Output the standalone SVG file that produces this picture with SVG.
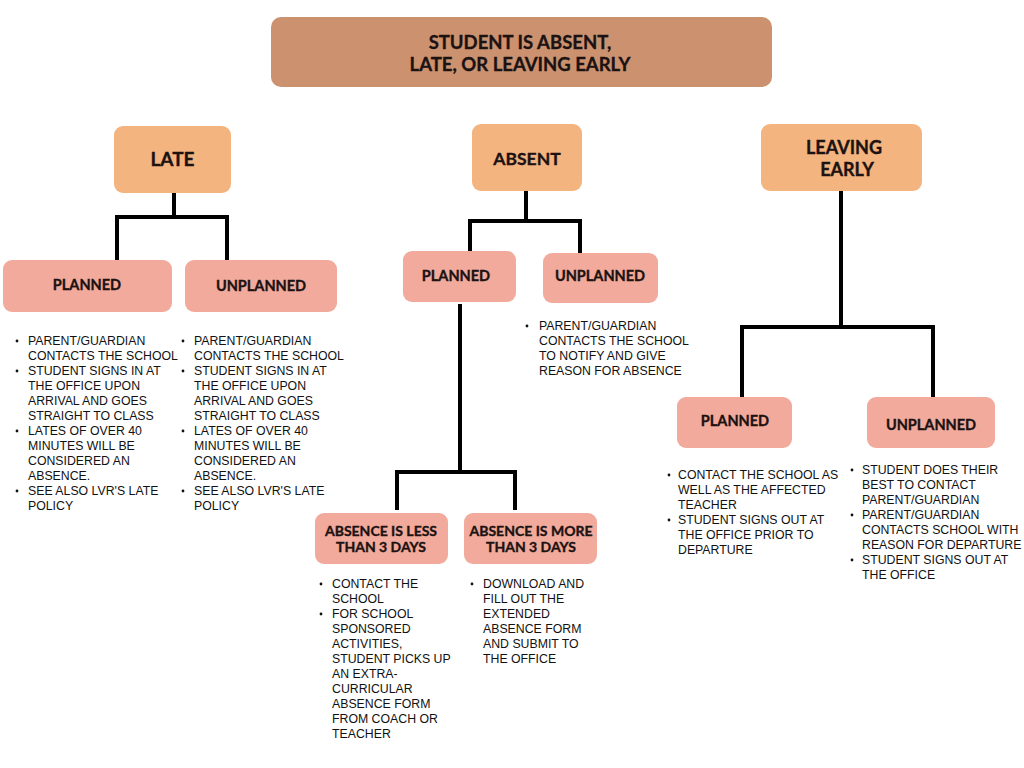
<svg xmlns="http://www.w3.org/2000/svg" width="1024" height="768" viewBox="0 0 1024 768">
<style>
.title{fill:#CC9270}
.l1{fill:#F4B47F}
.l2{fill:#F1AA9B}
.h{font-family:Lato,"Open Sans","Liberation Sans",sans-serif;font-weight:bold;fill:#1c1212;stroke:#1c1212;stroke-width:0.35;text-anchor:middle}
.b{font-family:"Liberation Sans",Arial,sans-serif;font-size:12.3px;fill:#111}
.dot{fill:#111}
.conn{fill:none;stroke:#000;stroke-width:4}
</style>
<rect width="1024" height="768" fill="#fff"/>
<g id="connectors">
<path class="conn" d="M174,193 V217 M117,217 H227 M117,215 V263 M227,215 V263"/>
<path class="conn" d="M526,191 V221 M470,221 H580 M470,219 V253 M580,219 V253"/>
<path class="conn" d="M460,304 V472 M397,472 H515 M397,470 V510 M515,470 V510"/>
<path class="conn" d="M841,191 V327 M742,327 H933 M742,325 V400 M933,325 V400"/>
</g>
<g id="root">
<rect class="title" x="271" y="17" width="501" height="70" rx="10"/>
<text class="h" font-size="18.5" x="520" y="49">STUDENT IS ABSENT,</text>
<text class="h" font-size="18.5" x="520" y="71">LATE, OR LEAVING EARLY</text>
</g>
<g id="late">
<rect class="l1" x="114" y="126" width="117" height="67" rx="9"/>
<text class="h" font-size="19" x="172.5" y="166">LATE</text>
</g>
<g id="absent">
<rect class="l1" x="472" y="124" width="110" height="67" rx="9"/>
<text class="h" font-size="17.5" x="527" y="165">ABSENT</text>
</g>
<g id="leaving-early">
<rect class="l1" x="761" y="124" width="161" height="67" rx="9"/>
<text class="h" font-size="18" x="844" y="154">LEAVING</text>
<text class="h" font-size="18" x="847" y="176">EARLY</text>
</g>
<g id="late-planned">
<rect class="l2" x="3" y="260" width="169" height="52" rx="9"/>
<text class="h" font-size="14.5" x="87" y="290">PLANNED</text>
</g>
<g id="late-unplanned">
<rect class="l2" x="185" y="260" width="152" height="52" rx="9"/>
<text class="h" font-size="14.5" x="261" y="291">UNPLANNED</text>
</g>
<g id="absent-planned">
<rect class="l2" x="403" y="251" width="113" height="51" rx="9"/>
<text class="h" font-size="14.5" x="456" y="281">PLANNED</text>
</g>
<g id="absent-unplanned">
<rect class="l2" x="543" y="253" width="115" height="50" rx="9"/>
<text class="h" font-size="14.5" x="600" y="281">UNPLANNED</text>
</g>
<g id="absence-less">
<rect class="l2" x="315" y="513" width="133" height="51" rx="9"/>
<text class="h" font-size="14" x="381" y="536">ABSENCE IS LESS</text>
<text class="h" font-size="14" x="381" y="552">THAN 3 DAYS</text>
</g>
<g id="absence-more">
<rect class="l2" x="464" y="513" width="133" height="51" rx="9"/>
<text class="h" font-size="14" x="531" y="536">ABSENCE IS MORE</text>
<text class="h" font-size="14" x="531" y="552">THAN 3 DAYS</text>
</g>
<g id="leaving-planned">
<rect class="l2" x="677" y="397" width="115" height="51" rx="9"/>
<text class="h" font-size="14.5" x="735" y="426">PLANNED</text>
</g>
<g id="leaving-unplanned">
<rect class="l2" x="867" y="397" width="128" height="51" rx="9"/>
<text class="h" font-size="14.5" x="931" y="430">UNPLANNED</text>
</g>
<g id="late-planned-notes">
<circle class="dot" cx="17" cy="341" r="1.4"/><circle class="dot" cx="17" cy="371" r="1.4"/><circle class="dot" cx="17" cy="431" r="1.4"/><circle class="dot" cx="17" cy="491" r="1.4"/>
<text class="b" x="28" y="345">PARENT/GUARDIAN</text>
<text class="b" x="28" y="360">CONTACTS THE SCHOOL</text>
<text class="b" x="28" y="375">STUDENT SIGNS IN AT</text>
<text class="b" x="28" y="390">THE OFFICE UPON</text>
<text class="b" x="28" y="405">ARRIVAL AND GOES</text>
<text class="b" x="28" y="420">STRAIGHT TO CLASS</text>
<text class="b" x="28" y="435">LATES OF OVER 40</text>
<text class="b" x="28" y="450">MINUTES WILL BE</text>
<text class="b" x="28" y="465">CONSIDERED AN</text>
<text class="b" x="28" y="480">ABSENCE.</text>
<text class="b" x="28" y="495">SEE ALSO LVR'S LATE</text>
<text class="b" x="28" y="510">POLICY</text>
</g>
<g id="late-unplanned-notes">
<circle class="dot" cx="183" cy="341" r="1.4"/><circle class="dot" cx="183" cy="371" r="1.4"/><circle class="dot" cx="183" cy="431" r="1.4"/><circle class="dot" cx="183" cy="491" r="1.4"/>
<text class="b" x="194" y="345">PARENT/GUARDIAN</text>
<text class="b" x="194" y="360">CONTACTS THE SCHOOL</text>
<text class="b" x="194" y="375">STUDENT SIGNS IN AT</text>
<text class="b" x="194" y="390">THE OFFICE UPON</text>
<text class="b" x="194" y="405">ARRIVAL AND GOES</text>
<text class="b" x="194" y="420">STRAIGHT TO CLASS</text>
<text class="b" x="194" y="435">LATES OF OVER 40</text>
<text class="b" x="194" y="450">MINUTES WILL BE</text>
<text class="b" x="194" y="465">CONSIDERED AN</text>
<text class="b" x="194" y="480">ABSENCE.</text>
<text class="b" x="194" y="495">SEE ALSO LVR'S LATE</text>
<text class="b" x="194" y="510">POLICY</text>
</g>
<g id="absent-unplanned-notes">
<circle class="dot" cx="527" cy="326" r="1.4"/>
<text class="b" x="539" y="330">PARENT/GUARDIAN</text>
<text class="b" x="539" y="345">CONTACTS THE SCHOOL</text>
<text class="b" x="539" y="360">TO NOTIFY AND GIVE</text>
<text class="b" x="539" y="375">REASON FOR ABSENCE</text>
</g>
<g id="absence-less-notes">
<circle class="dot" cx="321" cy="584" r="1.4"/><circle class="dot" cx="321" cy="614" r="1.4"/>
<text class="b" x="332" y="588">CONTACT THE</text>
<text class="b" x="332" y="603">SCHOOL</text>
<text class="b" x="332" y="618">FOR SCHOOL</text>
<text class="b" x="332" y="633">SPONSORED</text>
<text class="b" x="332" y="648">ACTIVITIES,</text>
<text class="b" x="332" y="663">STUDENT PICKS UP</text>
<text class="b" x="332" y="678">AN EXTRA-</text>
<text class="b" x="332" y="693">CURRICULAR</text>
<text class="b" x="332" y="708">ABSENCE FORM</text>
<text class="b" x="332" y="723">FROM COACH OR</text>
<text class="b" x="332" y="738">TEACHER</text>
</g>
<g id="absence-more-notes">
<circle class="dot" cx="472" cy="584" r="1.4"/>
<text class="b" x="483" y="588">DOWNLOAD AND</text>
<text class="b" x="483" y="603">FILL OUT THE</text>
<text class="b" x="483" y="618">EXTENDED</text>
<text class="b" x="483" y="633">ABSENCE FORM</text>
<text class="b" x="483" y="648">AND SUBMIT TO</text>
<text class="b" x="483" y="663">THE OFFICE</text>
</g>
<g id="leaving-planned-notes">
<circle class="dot" cx="669" cy="475" r="1.4"/><circle class="dot" cx="669" cy="520" r="1.4"/>
<text class="b" x="678" y="479">CONTACT THE SCHOOL AS</text>
<text class="b" x="678" y="494">WELL AS THE AFFECTED</text>
<text class="b" x="678" y="509">TEACHER</text>
<text class="b" x="678" y="524">STUDENT SIGNS OUT AT</text>
<text class="b" x="678" y="539">THE OFFICE PRIOR TO</text>
<text class="b" x="678" y="554">DEPARTURE</text>
</g>
<g id="leaving-unplanned-notes">
<circle class="dot" cx="852" cy="470" r="1.4"/><circle class="dot" cx="852" cy="515" r="1.4"/><circle class="dot" cx="852" cy="560" r="1.4"/>
<text class="b" x="862" y="474">STUDENT DOES THEIR</text>
<text class="b" x="862" y="489">BEST TO CONTACT</text>
<text class="b" x="862" y="504">PARENT/GUARDIAN</text>
<text class="b" x="862" y="519">PARENT/GUARDIAN</text>
<text class="b" x="862" y="534">CONTACTS SCHOOL WITH</text>
<text class="b" x="862" y="549">REASON FOR DEPARTURE</text>
<text class="b" x="862" y="564">STUDENT SIGNS OUT AT</text>
<text class="b" x="862" y="579">THE OFFICE</text>
</g>
</svg>
